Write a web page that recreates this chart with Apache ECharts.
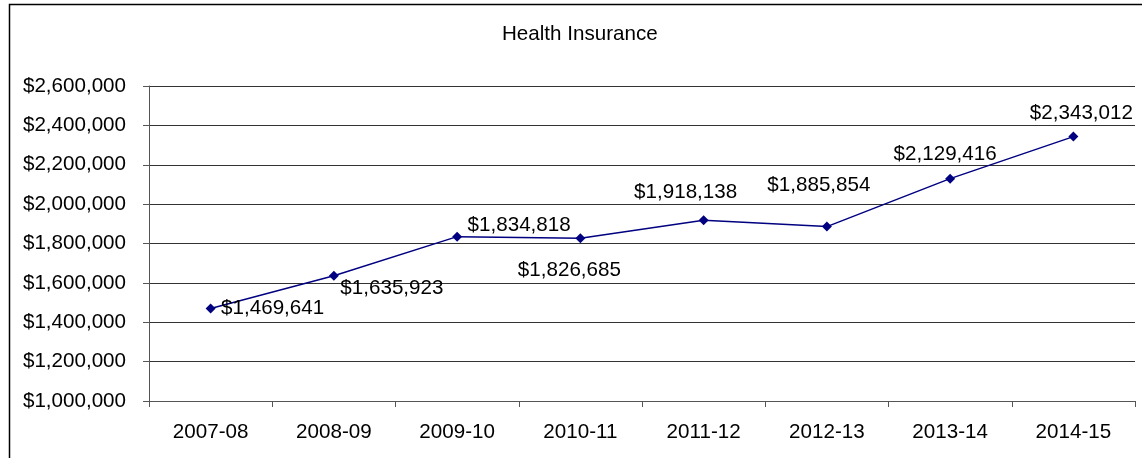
<!DOCTYPE html>
<html>
<head>
<meta charset="utf-8">
<script src="https://cdn.jsdelivr.net/npm/echarts@6/dist/echarts.min.js"></script>
<style>
  html, body { margin: 0; padding: 0; background: #fff; }
  #chart { width: 1142px; height: 458px; }
</style>
</head>
<body>
<div id="chart"></div>
<script>
const years = ["2007-08", "2008-09", "2009-10", "2010-11", "2011-12", "2012-13", "2013-14", "2014-15"];
const costs = [1469641, 1635923, 1834818, 1826685, 1918138, 1885854, 2129416, 2343012];
// where each value label sits relative to its point
const labelOffsets = [[62, 0], [58, 13], [62, -11], [-11, 32], [-18, -28], [-8, -41], [-5, -24], [8, -23]];

const money = (v) => "$" + v.toLocaleString("en-US");
const font = "Liberation Sans, Arial, sans-serif";
const fs = 20.6;

const option = {
  animation: false,
  title: {
    text: "Health Insurance",
    left: 497,
    top: 19,
    textStyle: { fontFamily: font, fontSize: fs, fontWeight: "normal", color: "#000" },
  },
  graphic: [
    {
      type: "rect",
      left: 7,
      top: 2,
      shape: { width: 1200, height: 500 },
      style: { fill: "none", stroke: "#000", lineWidth: 1.5 },
      silent: true,
    },
  ],
  grid: { left: 149, right: 7, top: 86, bottom: 57 },
  xAxis: {
    type: "category",
    data: years,
    boundaryGap: true,
    axisLine: { lineStyle: { color: "#555", width: 1 } },
    axisTick: { show: true, length: 6, lineStyle: { color: "#555" } },
    axisLabel: { margin: 21, fontFamily: font, fontSize: fs, color: "#000" },
  },
  yAxis: {
    type: "value",
    min: 1000000,
    max: 2600000,
    interval: 200000,
    axisLine: { show: true, lineStyle: { color: "#555", width: 1 } },
    axisTick: { show: true, length: 6, lineStyle: { color: "#555" } },
    axisLabel: { margin: 23, fontFamily: font, fontSize: fs, color: "#000", formatter: money },
    splitLine: { lineStyle: { color: "#333", width: 1 } },
  },
  series: [
    {
      type: "line",
      data: costs.map((v, i) => ({
        value: v,
        label: { offset: labelOffsets[i] },
      })),
      symbol: "diamond",
      symbolSize: 10,
      lineStyle: { color: "#000080", width: 1.5 },
      itemStyle: { color: "#000080" },
      label: {
        show: true,
        position: "inside",
        fontFamily: font,
        fontSize: fs,
        color: "#000",
        formatter: (p) => money(p.value),
      },
    },
  ],
};

const chart = echarts.init(document.getElementById("chart"));
chart.setOption(option);
</script>
</body>
</html>
